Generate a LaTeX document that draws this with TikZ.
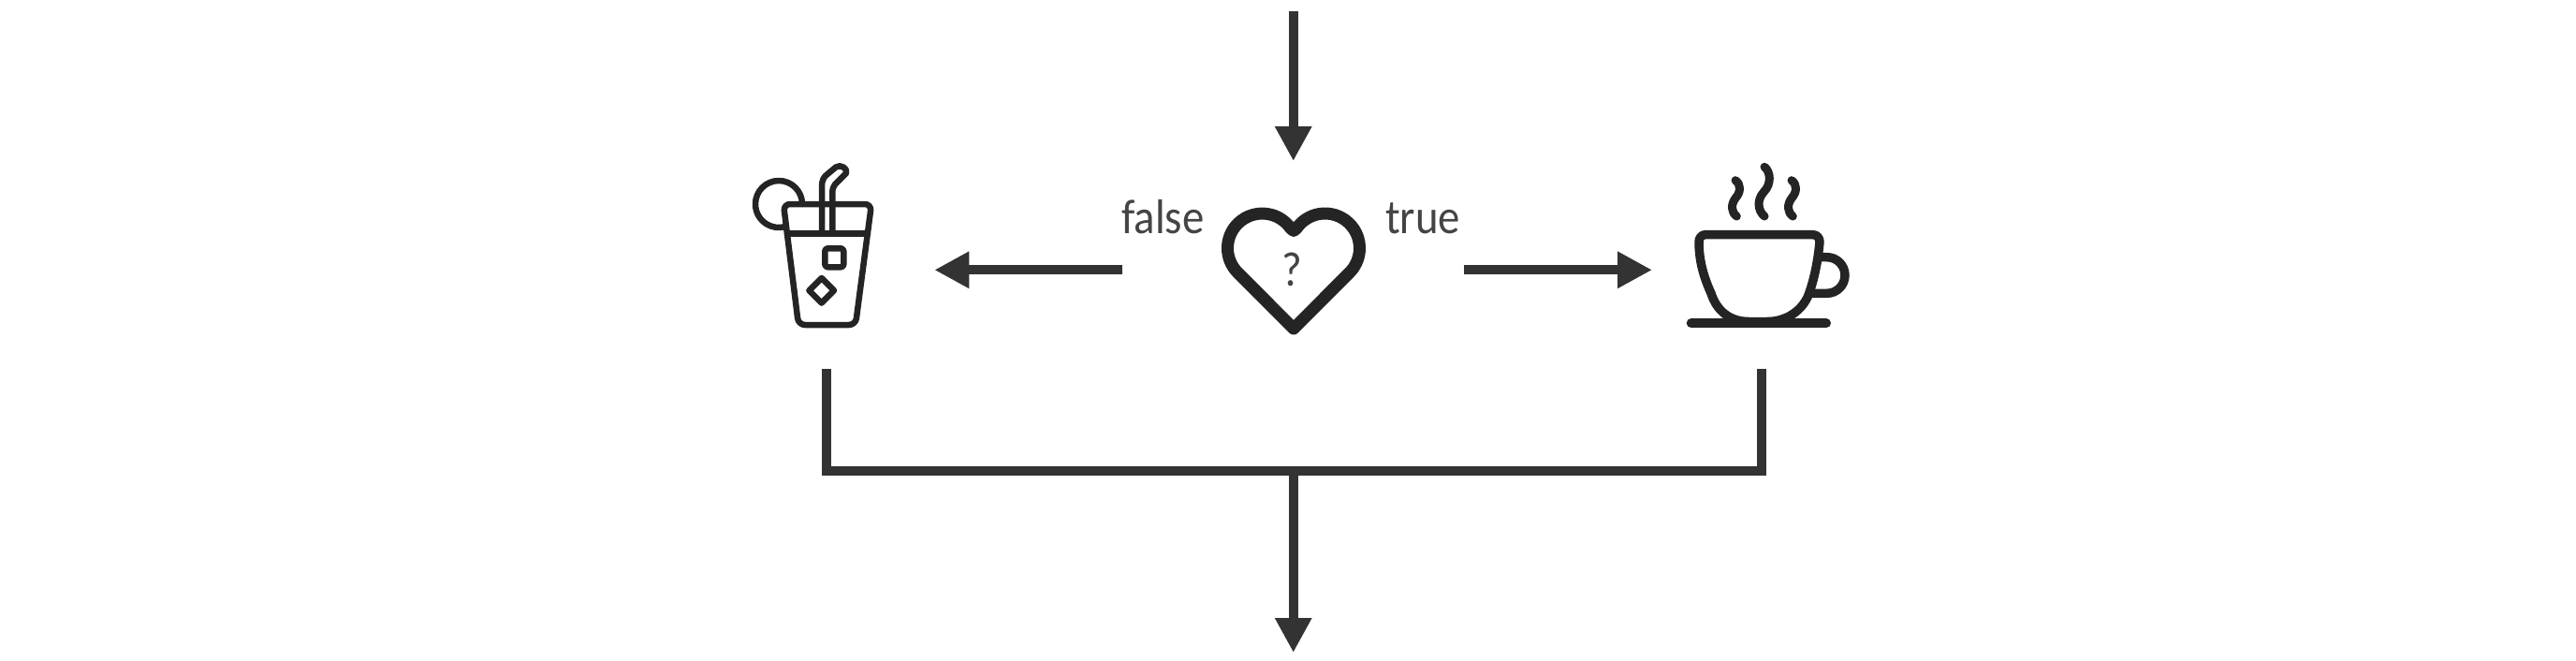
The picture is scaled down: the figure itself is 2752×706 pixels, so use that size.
\documentclass[tikz,border=0pt]{standalone}
\usepackage{fontspec}
\setmainfont{Carlito}[FakeStretch=0.9]
\usetikzlibrary{arrows.meta}
\definecolor{flowgray}{HTML}{333333}
\definecolor{icongray}{HTML}{242424}
\definecolor{textgray}{HTML}{444444}

\begin{document}
\begin{tikzpicture}[x=1pt,y=1pt,
        flow/.style={line width=10pt,flowgray,-{Triangle[width=37pt,length=37pt]}},
        merged/.style={line width=10pt,flowgray},
        icon/.style={line width=6.5pt,icongray,line join=round,line cap=round},
        slot/.style={inner sep=0pt,outer sep=0pt,minimum width=#1},
        word/.style={inner sep=0pt,textgray,font=\fontsize{52}{52}\selectfont}]
    \useasboundingbox (0,0) rectangle (2752,-706);

    \node[slot=231.2pt,minimum height=211.4pt] (juice) at (882.7,-288.3) {};
    \node[slot=365pt,minimum height=232.6pt] (heart) at (1381.7,-288.3) {};
    \node[slot=233.4pt,minimum height=211.4pt] (coffee) at (1881.7,-288.3) {};
    \coordinate (entry) at (1381.7,-12);
    \coordinate (merge) at (1381.7,-503);
    \coordinate (exit) at (1381.7,-697);

    \draw[flow] (entry) -- (heart.north);
    \draw[flow] (heart.west) -- (juice.east);
    \draw[flow] (heart.east) -- (coffee.west);
    \draw[merged] (juice.south) |- (merge) -| (coffee.south);
    \draw[flow] (merge) -- (exit);

    \node[word,anchor=base west] (falseword) at (1198,-249) {false};
    \node[word,anchor=base west] (trueword) at (1480,-249) {true};
    \node[word,anchor=base] (askword) at (1380,-305) {?};

    % heart
    \draw[icon,line width=13pt] (1382,-351) -- (1322.3,-291.2)
        arc[start angle=225,end angle=35,radius=37] -- (1382,-246.5) -- (1385.2,-243.8)
        arc[start angle=145,end angle=-45,radius=37] -- cycle;

    % juice
    \draw[icon,rounded corners=7pt] (837,-218) -- (931,-218) -- (914,-347) -- (853,-347) -- cycle;
    \draw[icon] (841,-249.5) -- (927,-249.5);
    \draw[icon] (857,-218) arc[start angle=0,end angle=285,radius=25];
    \draw[icon] (878,-249.5) -- (878,-200) .. controls (878,-192) and (880,-189) .. (884,-186) -- (893,-178.5)
        .. controls (898,-175) and (906,-180) .. (904,-185) -- (892,-197)
        .. controls (890,-200) and (889.3,-202) .. (889.3,-206) -- (889.3,-249.5);
    \draw[icon,rounded corners=3pt] (881.3,-265.3) rectangle (901.3,-285.3);
    \draw[icon] (877.7,-297) -- (891,-310.3) -- (877.7,-323.6) -- (864.4,-310.3) -- cycle;

    % coffee
    \draw[icon,line width=9.5pt] (1821.7,-250.7) -- (1936.7,-250.7)
        .. controls (1941,-250.7) and (1944,-254) .. (1944,-258.3)
        .. controls (1942,-280) and (1938,-298) .. (1932.7,-313.3)
        .. controls (1926,-332) and (1908,-343.5) .. (1888,-343.5) -- (1868,-343.5)
        .. controls (1848,-343.5) and (1834,-332) .. (1828,-313.3)
        .. controls (1821,-298) and (1815,-280) .. (1815,-258.3)
        .. controls (1815,-254) and (1818,-250.7) .. (1821.7,-250.7) -- cycle;
    \draw[icon,line width=9.5pt] (1945,-274.7) -- (1951.7,-274.7)
        arc[start angle=90,end angle=-90,radius=19.3] -- (1936,-313.3);
    \draw[icon,line width=10pt] (1806.7,-345.3) -- (1951,-345.3);
    \foreach \dx in {0,60} {
        \draw[icon,line width=9pt,xshift=\dx pt] (1854,-192.7)
            .. controls (1860,-196.7) and (1860,-205) .. (1854,-211.7)
            .. controls (1849,-218.3) and (1849.3,-226.7) .. (1855.3,-231);
    }
    \draw[icon,line width=9pt] (1885,-178.3) .. controls (1891.7,-183.3) and (1892.7,-196.7) .. (1884.3,-205)
        .. controls (1876.7,-213.3) and (1877.7,-225) .. (1885,-231);
\end{tikzpicture}
\end{document}
